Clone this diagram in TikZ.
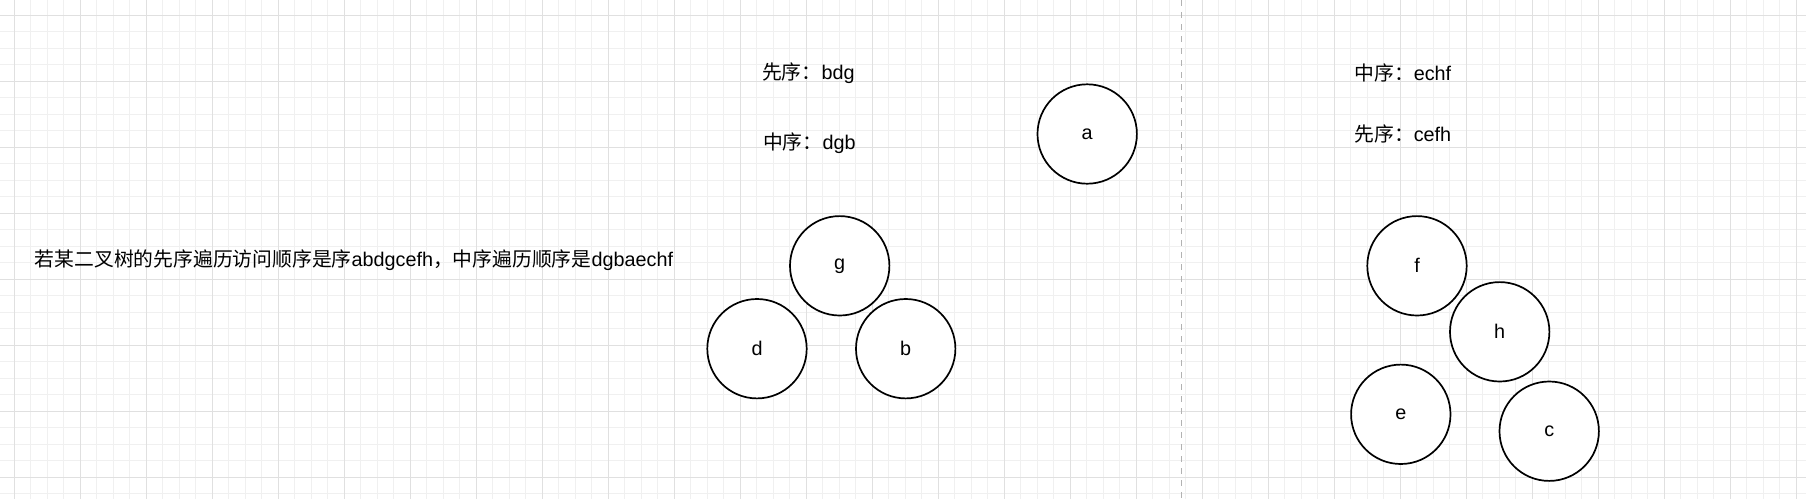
\documentclass[tikz,border=0pt]{standalone}
\usepackage{fontspec}
\setmainfont{Liberation Sans}
\newfontfamily\cjk{Noto Sans CJK SC}
\begin{document}
\begin{tikzpicture}[x=0.5pt,y=-0.5pt,
  minorgrid/.style={draw=black!6,line width=0.5pt},
  majorgrid/.style={draw=black!12,line width=0.6pt},
  divider/.style={draw=black!30,dashed,line width=0.5pt},
  vtx/.style={circle,draw=black,line width=0.85pt,fill=white,minimum size=49.7pt,inner sep=0pt,font=\fontsize{9.9pt}{12pt}\selectfont},
  lbl/.style={anchor=west,inner sep=0pt,font=\fontsize{9.9pt}{12pt}\selectfont}]
\useasboundingbox (0,0) rectangle (1806,499);
\fill[white] (0,0) rectangle (1806,499);
\foreach \k in {0,...,108} {\draw[minorgrid] ({14.3+16.5*\k},0) -- ({14.3+16.5*\k},499);}
\foreach \k in {0,...,29} {\draw[minorgrid] (0,{15.3+16.5*\k}) -- (1806,{15.3+16.5*\k});}
\foreach \k in {0,...,27} {\draw[majorgrid] ({14.3+66*\k},0) -- ({14.3+66*\k},499);}
\foreach \k in {0,...,7} {\draw[majorgrid] (0,{15.3+66*\k}) -- (1806,{15.3+66*\k});}
\coordinate (divtop) at (1181.7,0);
\coordinate (divbot) at (1181.7,499);
\draw[divider] (divtop) -- (divbot);
\node[lbl] (q) at (34.5,260) {{\cjk 若某二叉树的先序遍历访问顺序是序}abdgcefh{\cjk ，中序遍历顺序是}dgbaechf};
\node[lbl] (pre1) at (761.7,73.3) {{\cjk 先序：}bdg};
\node[lbl] (in1) at (762.7,142.7) {{\cjk 中序：}dgb};
\node[lbl] (in2) at (1354,73.3) {{\cjk 中序：}echf};
\node[lbl] (pre2) at (1354,134) {{\cjk 先序：}cefh};
\node[vtx] (a) at (1087.2,134) {a};
\node[vtx] (g) at (839.7,265.8) {g};
\node[vtx] (d) at (757,348.7) {d};
\node[vtx] (b) at (905.7,348.7) {b};
\node[vtx] (f) at (1417,265.8) {f};
\node[vtx] (h) at (1499.7,331.8) {h};
\node[vtx] (e) at (1400.8,414.3) {e};
\node[vtx] (c) at (1549.2,431.2) {c};
\end{tikzpicture}
\end{document}
